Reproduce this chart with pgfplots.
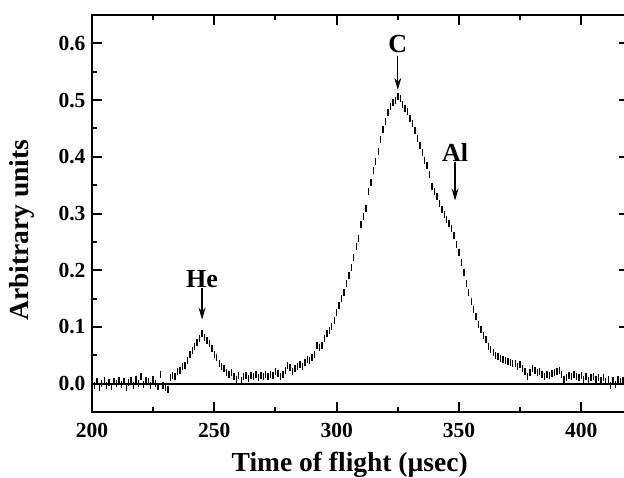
\documentclass[border=0pt]{standalone}
\usepackage{fontspec}
\setmainfont{Liberation Serif}
\usepackage{pgfplots}
\pgfplotsset{compat=1.18}
\usetikzlibrary{arrows.meta}

% time of flight spectrum (1 us steps)
\pgfplotstableread{
x y
200 0.002
201 -0.004
202 0.003
203 -0.006
204 0.001
205 0.005
206 -0.003
207 0.002
208 -0.005
209 0.004
210 0.000
211 0.006
212 -0.002
213 0.003
214 -0.007
215 0.002
216 0.005
217 -0.003
218 0.008
219 0.001
220 0.012
221 -0.002
222 0.006
223 0.003
224 -0.004
225 0.007
226 0.001
227 -0.005
228 0.016
229 -0.003
230 -0.006
231 -0.010
232 0.010
233 0.014
234 0.012
235 0.022
236 0.024
237 0.030
238 0.032
239 0.040
240 0.052
241 0.058
242 0.066
243 0.073
244 0.080
245 0.089
246 0.082
247 0.076
248 0.070
249 0.062
250 0.052
251 0.046
252 0.036
253 0.030
254 0.026
255 0.020
256 0.016
257 0.019
258 0.012
259 0.008
260 0.014
261 0.006
262 0.013
263 0.015
264 0.009
265 0.014
266 0.012
267 0.016
268 0.011
269 0.015
270 0.013
271 0.017
272 0.012
273 0.016
274 0.014
275 0.022
276 0.018
277 0.012
278 0.016
279 0.024
280 0.032
281 0.028
282 0.022
283 0.026
284 0.031
285 0.034
286 0.030
287 0.038
288 0.043
289 0.040
290 0.046
291 0.052
292 0.068
293 0.064
294 0.067
295 0.080
296 0.088
297 0.094
298 0.100
299 0.112
300 0.126
301 0.138
302 0.150
303 0.160
304 0.176
305 0.190
306 0.205
307 0.222
308 0.242
309 0.256
310 0.280
311 0.295
312 0.308
313 0.338
314 0.355
315 0.376
316 0.392
317 0.410
318 0.430
319 0.448
320 0.462
321 0.478
322 0.488
323 0.496
324 0.500
325 0.506
326 0.502
327 0.492
328 0.486
329 0.480
330 0.468
331 0.458
332 0.446
333 0.432
334 0.420
335 0.408
336 0.394
337 0.384
338 0.368
339 0.348
340 0.338
341 0.330
342 0.318
343 0.307
344 0.298
345 0.290
346 0.283
347 0.274
348 0.262
349 0.245
350 0.232
351 0.214
352 0.196
353 0.176
354 0.160
355 0.145
356 0.130
357 0.118
358 0.104
359 0.095
360 0.085
361 0.078
362 0.066
363 0.061
364 0.055
365 0.050
366 0.048
367 0.045
368 0.042
369 0.040
370 0.039
371 0.037
372 0.035
373 0.036
374 0.031
375 0.033
376 0.026
377 0.022
378 0.012
379 0.020
380 0.026
381 0.024
382 0.020
383 0.022
384 0.016
385 0.013
386 0.017
387 0.014
388 0.018
389 0.020
390 0.022
391 0.024
392 0.016
393 0.008
394 0.010
395 0.014
396 0.012
397 0.016
398 0.012
399 0.010
400 0.014
401 0.008
402 0.012
403 0.006
404 0.010
405 0.013
406 0.008
407 0.011
408 0.006
409 0.010
410 0.004
411 0.008
412 -0.004
413 0.006
414 -0.002
415 0.008
416 0.004
417 0.006
418 0.005
}\tof

\begin{document}
\begin{tikzpicture}
% page = 624x477, axis box from x=92 to 629 (cut at the right edge)
\useasboundingbox (0,0) rectangle (624pt,477pt);
\begin{axis}[
    at={(92pt,65pt)}, anchor=south west,
    scale only axis, clip=false,
    width=537pt, height=397pt,
    xmin=200, xmax=419.5,
    ymin=-0.05, ymax=0.65,
    xtick={200,250,300,350,400},
    ytick={0,0.1,0.2,0.3,0.4,0.5,0.6},
    minor x tick num=1, minor y tick num=1,
    tick align=inside,
    major tick length=10pt, minor tick length=5pt,
    axis line style={line width=1.8pt},
    tick label style={font=\fontsize{21.5}{21.5}\selectfont\bfseries},
    /pgf/number format/assume math mode=true,
    yticklabel style={/pgf/number format/fixed, /pgf/number format/precision=1,
                      /pgf/number format/fixed zerofill, xshift=-3pt},
    xticklabel style={yshift=-8pt},
    xlabel={Time of flight (µsec)},
    ylabel={Arbitrary units},
    label style={font=\fontsize{27.5}{27.5}\selectfont\bfseries},
    x label style={at={(axis description cs:0.48,-0.132)}, anchor=center},
    y label style={at={(axis description cs:-0.130,0.458)}, anchor=center},
]
\addplot[only marks, mark=|, mark size=3.5pt, mark options={line width=1.4pt}] table {\tof};

\draw[line width=2pt] (axis cs:200,0) -- (axis cs:419.5,0);

% tick marks, pointing in (10pt = 0.0176 in y, 4.09 in x)
\draw[black, line width=2pt]
  (axis cs:250,-0.05) -- (axis cs:250,-0.0324)
  (axis cs:300,-0.05) -- (axis cs:300,-0.0324)
  (axis cs:350,-0.05) -- (axis cs:350,-0.0324)
  (axis cs:400,-0.05) -- (axis cs:400,-0.0324)
  (axis cs:225,-0.05) -- (axis cs:225,-0.0412)
  (axis cs:275,-0.05) -- (axis cs:275,-0.0412)
  (axis cs:325,-0.05) -- (axis cs:325,-0.0412)
  (axis cs:375,-0.05) -- (axis cs:375,-0.0412)
  (axis cs:250,0.65) -- (axis cs:250,0.6324)
  (axis cs:300,0.65) -- (axis cs:300,0.6324)
  (axis cs:350,0.65) -- (axis cs:350,0.6324)
  (axis cs:400,0.65) -- (axis cs:400,0.6324)
  (axis cs:225,0.65) -- (axis cs:225,0.6412)
  (axis cs:275,0.65) -- (axis cs:275,0.6412)
  (axis cs:325,0.65) -- (axis cs:325,0.6412)
  (axis cs:375,0.65) -- (axis cs:375,0.6412)
  (axis cs:200,0.1) -- (axis cs:204.09,0.1)
  (axis cs:200,0.2) -- (axis cs:204.09,0.2)
  (axis cs:200,0.3) -- (axis cs:204.09,0.3)
  (axis cs:200,0.4) -- (axis cs:204.09,0.4)
  (axis cs:200,0.5) -- (axis cs:204.09,0.5)
  (axis cs:200,0.6) -- (axis cs:204.09,0.6)
  (axis cs:200,0.05) -- (axis cs:202.04,0.05)
  (axis cs:200,0.15) -- (axis cs:202.04,0.15)
  (axis cs:200,0.25) -- (axis cs:202.04,0.25)
  (axis cs:200,0.35) -- (axis cs:202.04,0.35)
  (axis cs:200,0.45) -- (axis cs:202.04,0.45)
  (axis cs:200,0.55) -- (axis cs:202.04,0.55)
  (axis cs:419.5,0.1) -- (axis cs:415.41,0.1)
  (axis cs:419.5,0.2) -- (axis cs:415.41,0.2)
  (axis cs:419.5,0.3) -- (axis cs:415.41,0.3)
  (axis cs:419.5,0.4) -- (axis cs:415.41,0.4)
  (axis cs:419.5,0.5) -- (axis cs:415.41,0.5)
  (axis cs:419.5,0.6) -- (axis cs:415.41,0.6);

\node[font=\fontsize{26}{26}\selectfont\bfseries] at (axis cs:245,0.184) {He};
\draw[line width=1.3pt, -{Stealth[length=12pt,width=7pt]}] (axis cs:245,0.168) -- (axis cs:245,0.113);
\node[font=\fontsize{26}{26}\selectfont\bfseries] at (axis cs:325,0.598) {C};
\draw[line width=1.3pt, -{Stealth[length=12pt,width=7pt]}] (axis cs:325,0.578) -- (axis cs:325,0.518);
\node[font=\fontsize{26}{26}\selectfont\bfseries] at (axis cs:348.4,0.407) {Al};
\draw[line width=1.3pt, -{Stealth[length=12pt,width=7pt]}] (axis cs:348.4,0.390) -- (axis cs:348.4,0.323);
\end{axis}
\end{tikzpicture}
\end{document}
